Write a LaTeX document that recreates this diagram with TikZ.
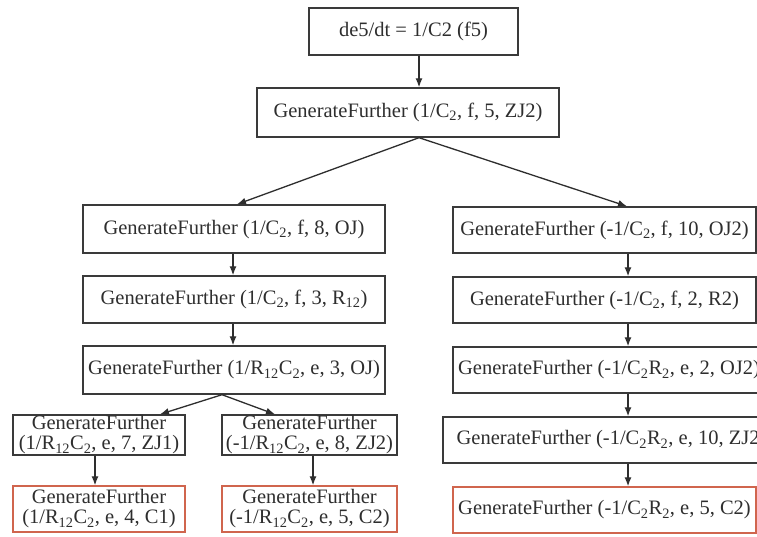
\documentclass[tikz,border=0pt]{standalone}
\usepackage{fontspec}
\setmainfont{Liberation Serif}
\usetikzlibrary{arrows.meta}
\definecolor{edge}{HTML}{3A3A3A}
\definecolor{leaf}{HTML}{D0654E}
\definecolor{ink}{HTML}{2E2E2E}
\newcommand{\GF}{GenerateFurther}
\newcommand{\lo}[1]{\textsubscript{#1}}
\begin{document}
\begin{tikzpicture}[x=1pt,y=-1pt,
  box/.style={draw=edge, line width=1.4pt, rectangle, inner sep=0pt,
    align=center, text=ink, font=\fontsize{20.5}{20}\selectfont},
  leafbox/.style={box, draw=leaf},
  arr/.style={draw=ink, line width=1.3pt, -{Latex[length=9pt,width=7pt]}}]
\useasboundingbox (0,0) rectangle (757,537);
\fill[white] (0,0) rectangle (757,537);

% column guides for the connectors
\coordinate (trunk) at (419,0);
\coordinate (tipL) at (237,0);
\coordinate (tipR) at (627,0);
\coordinate (colL) at (233,0);
\coordinate (colR) at (628,0);
\coordinate (split) at (222,0);
\coordinate (tipLL) at (160,0);
\coordinate (tipLR) at (275,0);
\coordinate (colLL) at (95,0);
\coordinate (colLR) at (313,0);

% root and first expansion
\node[box, minimum width=209, minimum height=47] (top) at (413.5,31.5) {de5/dt = 1/C2 (f5)};
\node[box, minimum width=302, minimum height=49] (b2) at (408,112.5) {\GF{} (1/C\lo{2}, f, 5, ZJ2)};

% left branch
\node[box, minimum width=302, minimum height=48] (L1) at (234,229) {\GF{} (1/C\lo{2}, f, 8, OJ)};
\node[box, minimum width=302, minimum height=47] (L2) at (234,299.5) {\GF{} (1/C\lo{2}, f, 3, R\lo{12})};
\node[box, minimum width=302, minimum height=48] (L3) at (234,370) {\GF{} (1/R\lo{12}C\lo{2}, e, 3, OJ)};
\node[box, minimum width=172, minimum height=40] (LL1) at (99,435) {\GF\\(1/R\lo{12}C\lo{2}, e, 7, ZJ1)};
\node[box, minimum width=175, minimum height=40] (LR1) at (309.5,435) {\GF\\(-1/R\lo{12}C\lo{2}, e, 8, ZJ2)};
\node[leafbox, minimum width=172, minimum height=46] (LL2) at (99,509) {\GF\\(1/R\lo{12}C\lo{2}, e, 4, C1)};
\node[leafbox, minimum width=175, minimum height=46] (LR2) at (309.5,509) {\GF\\(-1/R\lo{12}C\lo{2}, e, 5, C2)};

% right branch
\node[box, minimum width=303, minimum height=46] (R1) at (604.5,230) {\GF{} (-1/C\lo{2}, f, 10, OJ2)};
\node[box, minimum width=303, minimum height=46] (R2) at (604.5,300) {\GF{} (-1/C\lo{2}, f, 2, R2)};
\node[box, minimum width=312, minimum height=46] (R3) at (609,370) {\GF{} (-1/C\lo{2}R\lo{2}, e, 2, OJ2)};
\node[box, minimum width=337, minimum height=46] (R4) at (611.5,440) {\GF{} (-1/C\lo{2}R\lo{2}, e, 10, ZJ2)};
\node[leafbox, minimum width=303, minimum height=46] (R5) at (604.5,510) {\GF{} (-1/C\lo{2}R\lo{2}, e, 5, C2)};

% connectors
\draw[arr] (top.south -| trunk) -- (b2.north -| trunk);
\draw[arr] (b2.south -| trunk) -- (L1.north -| tipL);
\draw[arr] (b2.south -| trunk) -- (R1.north -| tipR);
\draw[arr] (L1.south -| colL) -- (L2.north -| colL);
\draw[arr] (L2.south -| colL) -- (L3.north -| colL);
\draw[arr] (L3.south -| split) -- (LL1.north -| tipLL);
\draw[arr] (L3.south -| split) -- (LR1.north -| tipLR);
\draw[arr] (LL1.south -| colLL) -- (LL2.north -| colLL);
\draw[arr] (LR1.south -| colLR) -- (LR2.north -| colLR);
\draw[arr] (R1.south -| colR) -- (R2.north -| colR);
\draw[arr] (R2.south -| colR) -- (R3.north -| colR);
\draw[arr] (R3.south -| colR) -- (R4.north -| colR);
\draw[arr] (R4.south -| colR) -- (R5.north -| colR);
\end{tikzpicture}
\end{document}
